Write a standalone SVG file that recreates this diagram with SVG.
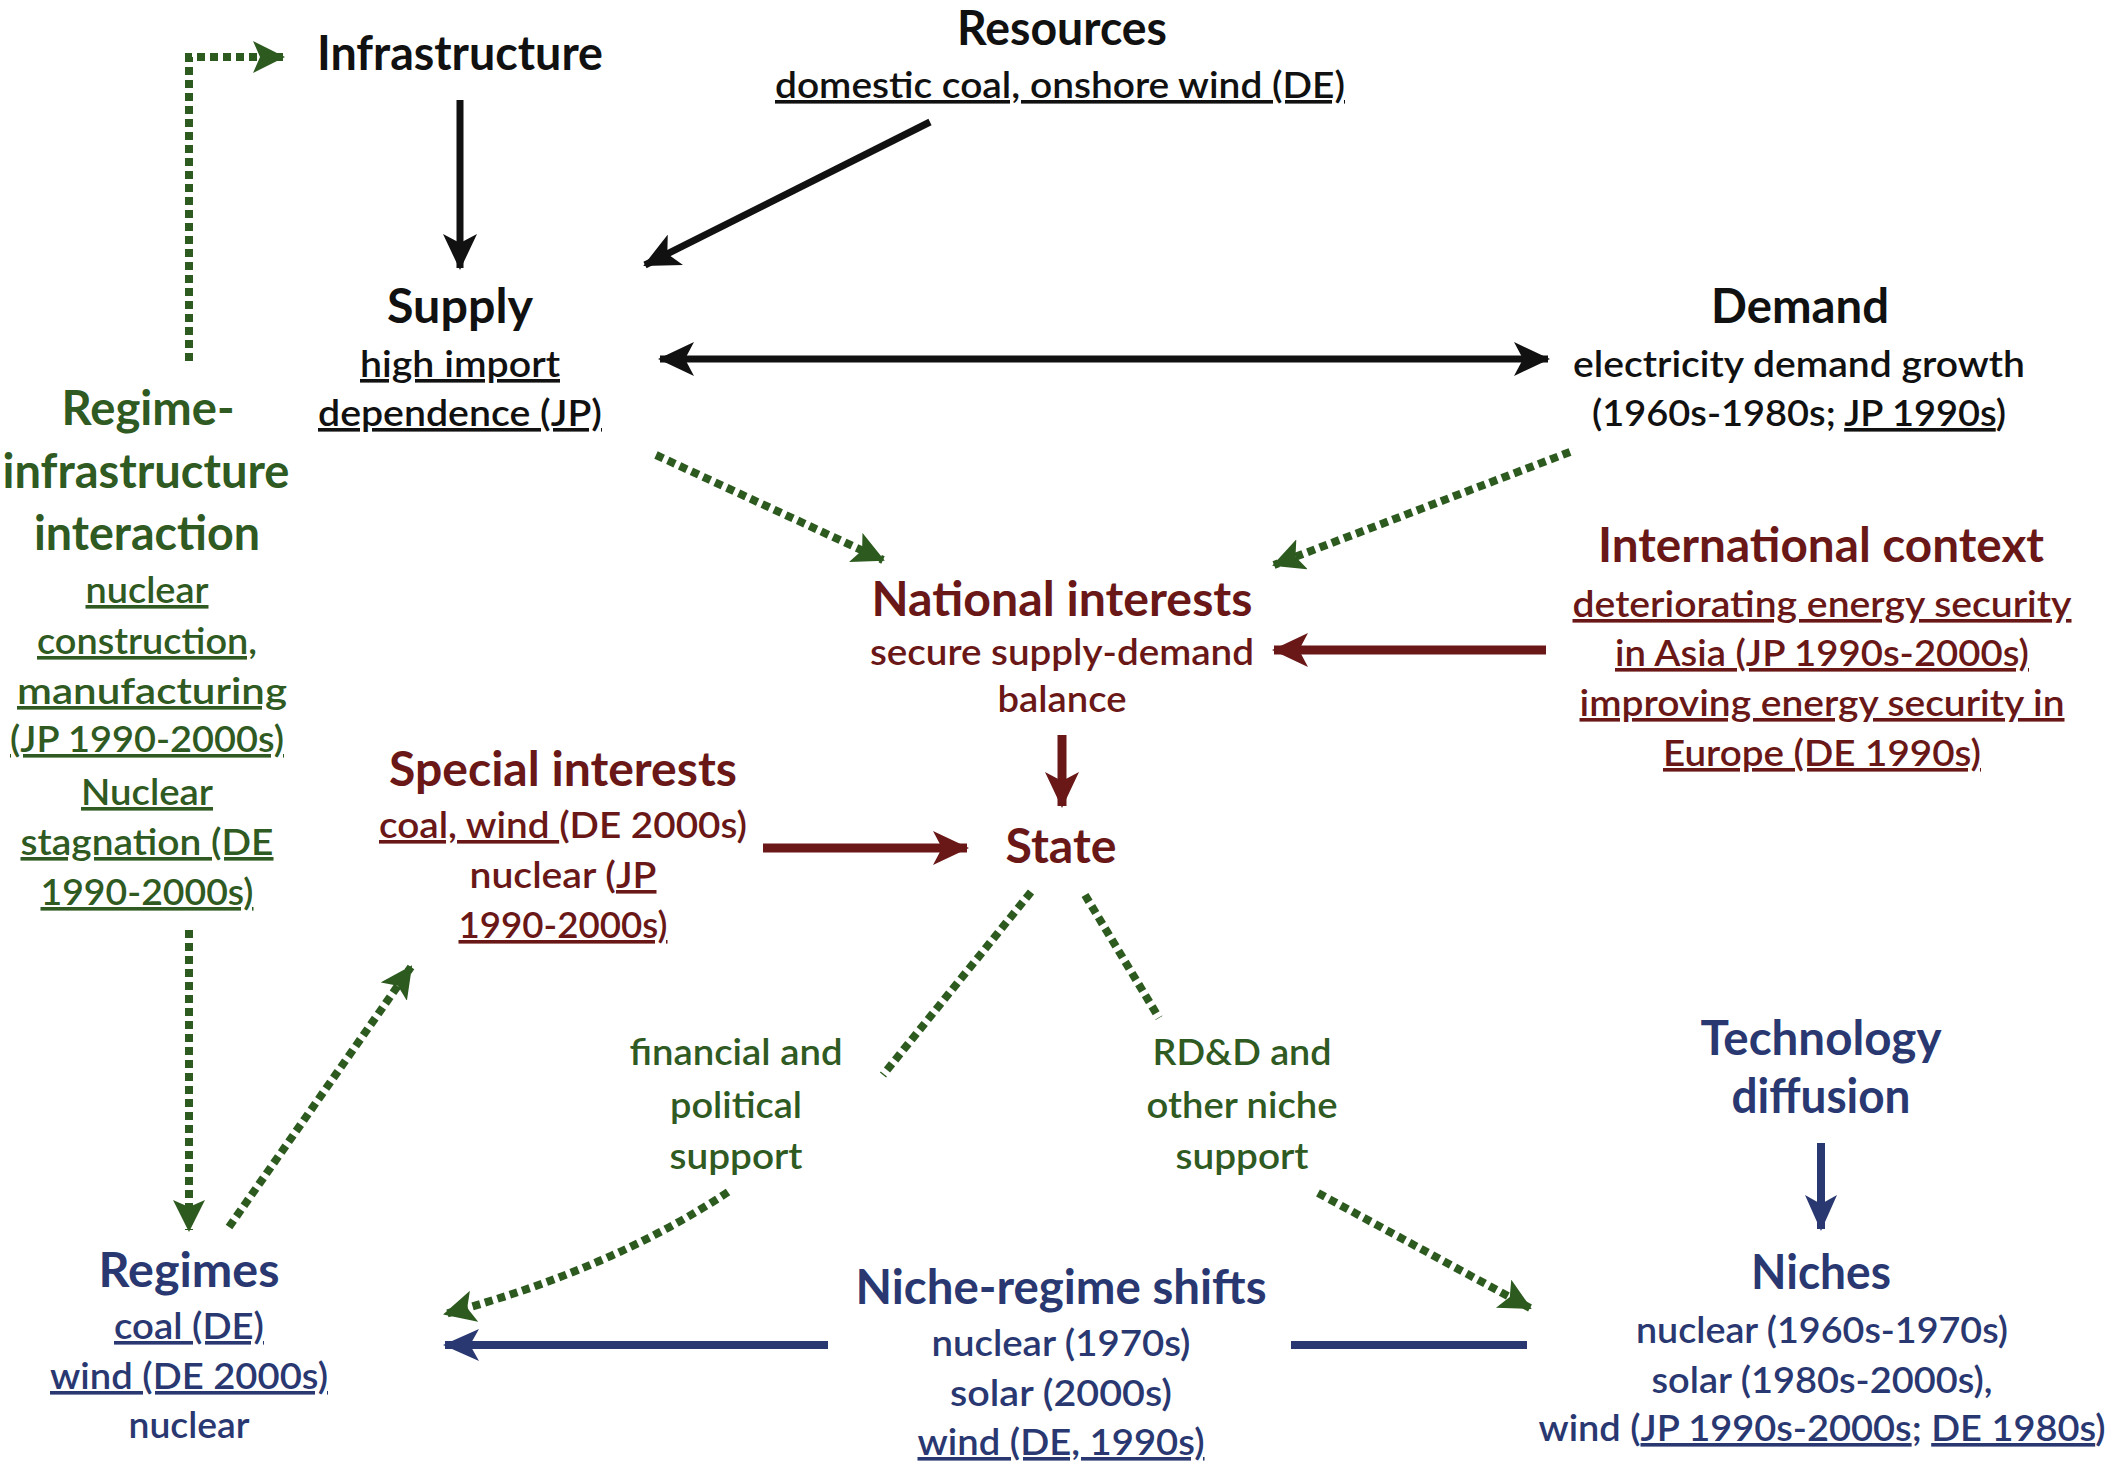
<svg xmlns="http://www.w3.org/2000/svg" width="2114" height="1467" viewBox="0 0 2114 1467">
<style>
text{font-family:Lato,"Liberation Sans",sans-serif;text-anchor:middle}
.t{font-size:47px;font-weight:700}
.s{font-size:36px;font-weight:600}
.k{fill:#111111}
.g{fill:#2f5a22}
.r{fill:#6a1717}
.b{fill:#2a3872}
.u{text-decoration:underline}
.ln{fill:none;stroke-linecap:butt}
.blk{stroke:#111111;stroke-width:7}
.red{stroke:#6a1717;stroke-width:9}
.blu{stroke:#2a3872;stroke-width:8}
.dot{stroke:#2c5a1f;stroke-width:8;stroke-dasharray:8 5}
</style>
<defs>
<marker id="ak" viewBox="0 0 36 34" refX="34" refY="17" markerWidth="36" markerHeight="34" markerUnits="userSpaceOnUse" orient="auto-start-reverse"><path d="M0,0 L36,17 L0,34 L9,17 Z" fill="#111111"/></marker>
<marker id="ag" viewBox="0 0 32 32" refX="30" refY="16" markerWidth="32" markerHeight="32" markerUnits="userSpaceOnUse" orient="auto"><path d="M0,0 L32,16 L0,32 L7,16 Z" fill="#2c5a1f"/></marker>
<marker id="ar" viewBox="0 0 36 34" refX="34" refY="17" markerWidth="36" markerHeight="34" markerUnits="userSpaceOnUse" orient="auto"><path d="M0,0 L36,17 L0,34 L9,17 Z" fill="#6a1717"/></marker>
<marker id="ab" viewBox="0 0 36 32" refX="34" refY="16" markerWidth="36" markerHeight="32" markerUnits="userSpaceOnUse" orient="auto"><path d="M0,0 L36,16 L0,32 L9,16 Z" fill="#2a3872"/></marker>
</defs>

<g id="connectors">
<path class="ln dot" d="M189,361 L189,57 L283,57" marker-end="url(#ag)"/>
<path class="ln blk" d="M460,100 L460,268" marker-end="url(#ak)"/>
<path class="ln blk" d="M930,122 L645,265" marker-end="url(#ak)"/>
<path class="ln blk" d="M660,359 L1548,359" marker-start="url(#ak)" marker-end="url(#ak)"/>
<path class="ln dot" d="M656,455 L883,560" marker-end="url(#ag)"/>
<path class="ln dot" d="M1570,452 L1274,565" marker-end="url(#ag)"/>
<path class="ln red" d="M1546,650 L1274,650" marker-end="url(#ar)"/>
<path class="ln red" d="M1062,735 L1062,806" marker-end="url(#ar)"/>
<path class="ln red" d="M763,848 L967,848" marker-end="url(#ar)"/>
<path class="ln dot" d="M189,930 L189,1230" marker-end="url(#ag)"/>
<path class="ln dot" d="M229,1227 L411,967" marker-end="url(#ag)"/>
<path class="ln dot" d="M1031,892 L883,1075"/>
<path class="ln dot" d="M728,1192 Q610,1270 445,1314" marker-end="url(#ag)"/>
<path class="ln dot" d="M1085,895 L1159,1018"/>
<path class="ln dot" d="M1318,1193 L1530,1308" marker-end="url(#ag)"/>
<path class="ln blu" d="M1821,1143 L1821,1229" marker-end="url(#ab)"/>
<path class="ln blu" d="M828,1345 L445,1345" marker-end="url(#ab)"/>
<path class="ln blu" d="M1291,1345 L1527,1345"/>
</g>

<g id="infrastructure">
<text class="t k" x="460" y="70" textLength="286" lengthAdjust="spacingAndGlyphs">Infrastructure</text>
</g>
<g id="resources">
<text class="t k" x="1062" y="45" textLength="210" lengthAdjust="spacingAndGlyphs">Resources</text>
<text class="s k u" x="1060" y="98" textLength="570" lengthAdjust="spacingAndGlyphs">domestic coal, onshore wind (DE)</text>
</g>
<g id="supply">
<text class="t k" x="460" y="323" textLength="146" lengthAdjust="spacingAndGlyphs">Supply</text>
<text class="s k u" x="460" y="377" textLength="200" lengthAdjust="spacingAndGlyphs">high import</text>
<text class="s k u" x="460" y="426" textLength="284" lengthAdjust="spacingAndGlyphs">dependence (JP)</text>
</g>
<g id="demand">
<text class="t k" x="1800" y="323" textLength="178" lengthAdjust="spacingAndGlyphs">Demand</text>
<text class="s k" x="1799" y="377" textLength="452" lengthAdjust="spacingAndGlyphs">electricity demand growth</text>
<text class="s k" x="1799" y="426" textLength="414" lengthAdjust="spacingAndGlyphs">(1960s-1980s; <tspan class="u">JP 1990s</tspan>)</text>
</g>
<g id="national-interests">
<text class="t r" x="1062" y="616" textLength="381" lengthAdjust="spacingAndGlyphs">National interests</text>
<text class="s r" x="1062" y="665" textLength="384" lengthAdjust="spacingAndGlyphs">secure supply-demand</text>
<text class="s r" x="1062" y="712" textLength="129" lengthAdjust="spacingAndGlyphs">balance</text>
</g>
<g id="international-context">
<text class="t r" x="1821" y="562" textLength="446" lengthAdjust="spacingAndGlyphs">International context</text>
<text class="s r u" x="1822" y="617" textLength="499" lengthAdjust="spacingAndGlyphs">deteriorating energy security</text>
<text class="s r u" x="1822" y="666" textLength="414" lengthAdjust="spacingAndGlyphs">in Asia (JP 1990s-2000s)</text>
<text class="s r u" x="1822" y="716" textLength="485" lengthAdjust="spacingAndGlyphs">improving energy security in</text>
<text class="s r u" x="1822" y="766" textLength="318" lengthAdjust="spacingAndGlyphs">Europe (DE 1990s)</text>
</g>
<g id="state">
<text class="t r" x="1061" y="863" textLength="111" lengthAdjust="spacingAndGlyphs">State</text>
</g>
<g id="special-interests">
<text class="t r" x="563" y="786" textLength="348" lengthAdjust="spacingAndGlyphs">Special interests</text>
<text class="s r" x="563" y="838" textLength="368" lengthAdjust="spacingAndGlyphs"><tspan class="u">coal, wind </tspan>(DE 2000s)</text>
<text class="s r" x="563" y="888" textLength="187" lengthAdjust="spacingAndGlyphs">nuclear (<tspan class="u">JP</tspan></text>
<text class="s r u" x="563" y="938" textLength="209" lengthAdjust="spacingAndGlyphs">1990-2000s)</text>
</g>
<g id="regime-infrastructure-interaction">
<text class="t g" x="148" y="425" textLength="173" lengthAdjust="spacingAndGlyphs">Regime-</text>
<text class="t g" x="146" y="488" textLength="287" lengthAdjust="spacingAndGlyphs">infrastructure</text>
<text class="t g" x="147" y="550" textLength="226" lengthAdjust="spacingAndGlyphs">interaction</text>
<text class="s g u" x="147" y="603" textLength="123" lengthAdjust="spacingAndGlyphs">nuclear</text>
<text class="s g u" x="147" y="654" textLength="220" lengthAdjust="spacingAndGlyphs">construction,</text>
<text class="s g u" x="152" y="704" textLength="270" lengthAdjust="spacingAndGlyphs">manufacturing </text>
<text class="s g u" x="147" y="752" textLength="274" lengthAdjust="spacingAndGlyphs">(JP 1990-2000s)</text>
<text class="s g u" x="147" y="805" textLength="132" lengthAdjust="spacingAndGlyphs">Nuclear</text>
<text class="s g u" x="147" y="855" textLength="253" lengthAdjust="spacingAndGlyphs">stagnation (DE</text>
<text class="s g u" x="147" y="905" textLength="213" lengthAdjust="spacingAndGlyphs">1990-2000s)</text>
</g>
<g id="financial-support">
<text class="s g" x="736" y="1065" textLength="213" lengthAdjust="spacingAndGlyphs">financial and</text>
<text class="s g" x="736" y="1118" textLength="132" lengthAdjust="spacingAndGlyphs">political</text>
<text class="s g" x="736" y="1169" textLength="133" lengthAdjust="spacingAndGlyphs">support</text>
</g>
<g id="rdd-support">
<text class="s g" x="1242" y="1065" textLength="179" lengthAdjust="spacingAndGlyphs">RD&amp;D and</text>
<text class="s g" x="1242" y="1118" textLength="191" lengthAdjust="spacingAndGlyphs">other niche</text>
<text class="s g" x="1242" y="1169" textLength="133" lengthAdjust="spacingAndGlyphs">support</text>
</g>
<g id="technology-diffusion">
<text class="t b" x="1821" y="1055" textLength="241" lengthAdjust="spacingAndGlyphs">Technology</text>
<text class="t b" x="1821" y="1113" textLength="179" lengthAdjust="spacingAndGlyphs">diffusion</text>
</g>
<g id="niches">
<text class="t b" x="1821" y="1289" textLength="140" lengthAdjust="spacingAndGlyphs">Niches</text>
<text class="s b" x="1822" y="1343" textLength="372" lengthAdjust="spacingAndGlyphs">nuclear (1960s-1970s)</text>
<text class="s b" x="1822" y="1393" textLength="341" lengthAdjust="spacingAndGlyphs">solar (1980s-2000s),</text>
<text class="s b" x="1822" y="1441" textLength="567" lengthAdjust="spacingAndGlyphs">wind (<tspan class="u">JP 1990s-2000s</tspan>; <tspan class="u">DE 1980s</tspan>)</text>
</g>
<g id="niche-regime-shifts">
<text class="t b" x="1061" y="1304" textLength="411" lengthAdjust="spacingAndGlyphs">Niche-regime shifts</text>
<text class="s b" x="1061" y="1356" textLength="259" lengthAdjust="spacingAndGlyphs">nuclear (1970s)</text>
<text class="s b" x="1061" y="1406" textLength="222" lengthAdjust="spacingAndGlyphs">solar (2000s)</text>
<text class="s b u" x="1061" y="1455" textLength="287" lengthAdjust="spacingAndGlyphs">wind (DE, 1990s)</text>
</g>
<g id="regimes">
<text class="t b" x="189" y="1287" textLength="181" lengthAdjust="spacingAndGlyphs">Regimes</text>
<text class="s b u" x="189" y="1339" textLength="150" lengthAdjust="spacingAndGlyphs">coal (DE)</text>
<text class="s b u" x="189" y="1389" textLength="278" lengthAdjust="spacingAndGlyphs">wind (DE 2000s)</text>
<text class="s b" x="189" y="1438" textLength="121" lengthAdjust="spacingAndGlyphs">nuclear</text>
</g>
</svg>
